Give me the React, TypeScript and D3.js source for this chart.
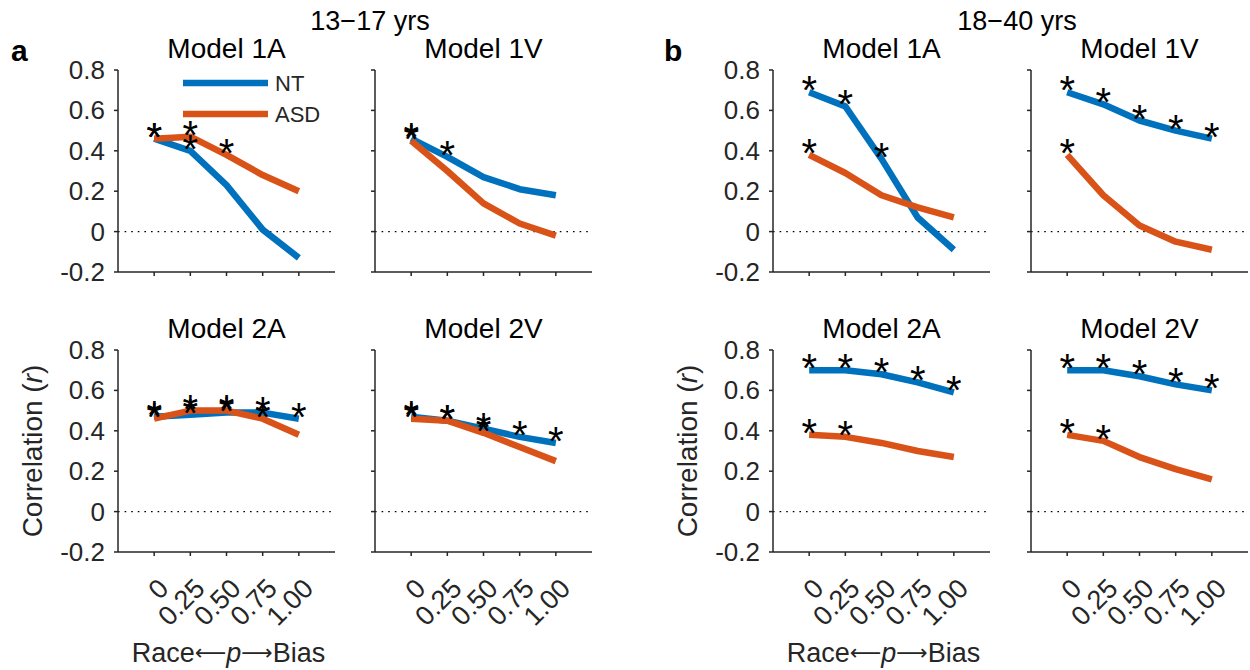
import React from 'react';
import * as d3 from 'd3';

// ---------- data ----------
const pValues = [0, 0.25, 0.5, 0.75, 1.0];
const pTickLabels = ['0', '0.25', '0.50', '0.75', '1.00'];
const yTicks = [-0.2, 0, 0.2, 0.4, 0.6, 0.8];
const yTickLabels = ['-0.2', '0', '0.2', '0.4', '0.6', '0.8'];
const groupTitles = ['13\u221217 yrs', '18\u221240 yrs'];
const panelLetters = ['a', 'b'];
const modelTitles = ['Model 1A', 'Model 1V', 'Model 2A', 'Model 2V'];
const seriesNames = ['NT', 'ASD'];
const yLabel = 'Correlation';
const xLabelLeft = 'Race';
const xLabelP = 'p';
const xLabelRight = 'Bias';
const arrowLeft = '\u27F5';
const arrowRight = '\u27F6';

// 13-17 yrs
const teen1A_NT = [0.46, 0.40, 0.23, 0.01, -0.13];
const teen1A_ASD = [0.46, 0.47, 0.38, 0.28, 0.20];
const teen1V_NT = [0.46, 0.37, 0.27, 0.21, 0.18];
const teen1V_ASD = [0.45, 0.30, 0.14, 0.04, -0.02];
const teen2A_NT = [0.47, 0.48, 0.49, 0.49, 0.46];
const teen2A_ASD = [0.46, 0.50, 0.50, 0.46, 0.38];
const teen2V_NT = [0.47, 0.45, 0.41, 0.37, 0.34];
const teen2V_ASD = [0.46, 0.45, 0.39, 0.32, 0.25];
// 18-40 yrs
const adult1A_NT = [0.69, 0.62, 0.36, 0.07, -0.09];
const adult1A_ASD = [0.38, 0.29, 0.18, 0.12, 0.07];
const adult1V_NT = [0.69, 0.63, 0.55, 0.50, 0.46];
const adult1V_ASD = [0.38, 0.18, 0.03, -0.05, -0.09];
const adult2A_NT = [0.70, 0.70, 0.68, 0.64, 0.59];
const adult2A_ASD = [0.38, 0.37, 0.34, 0.30, 0.27];
const adult2V_NT = [0.70, 0.70, 0.67, 0.63, 0.60];
const adult2V_ASD = [0.38, 0.35, 0.27, 0.21, 0.16];

// significance flags (1 = asterisk)
const teen1A_NT_sig = [1, 1, 0, 0, 0];
const teen1A_ASD_sig = [1, 1, 1, 0, 0];
const teen1V_NT_sig = [1, 1, 0, 0, 0];
const teen1V_ASD_sig = [1, 0, 0, 0, 0];
const teen2A_NT_sig = [1, 1, 1, 1, 1];
const teen2A_ASD_sig = [1, 1, 1, 1, 0];
const teen2V_NT_sig = [1, 1, 1, 1, 1];
const teen2V_ASD_sig = [1, 1, 1, 0, 0];
const adult1A_NT_sig = [1, 1, 1, 0, 0];
const adult1A_ASD_sig = [1, 0, 0, 0, 0];
const adult1V_NT_sig = [1, 1, 1, 1, 1];
const adult1V_ASD_sig = [1, 0, 0, 0, 0];
const adult2A_NT_sig = [1, 1, 1, 1, 1];
const adult2A_ASD_sig = [1, 1, 0, 0, 0];
const adult2V_NT_sig = [1, 1, 1, 1, 1];
const adult2V_ASD_sig = [1, 1, 0, 0, 0];

// ---------- layout ----------
const COLORS = ['#0072BD', '#D95319'];
const AXIS_COLOR = '#262626';
const FONT = "'Liberation Sans', Arial, Helvetica, sans-serif";
const axisXs = [118, 375, 773, 1031];
const axisTops = [70, 350];
const AW = 217;
const AH = 202;

const panels = [
  { col: 0, row: 0, title: modelTitles[0], nt: teen1A_NT, asd: teen1A_ASD, ntSig: teen1A_NT_sig, asdSig: teen1A_ASD_sig, legend: true },
  { col: 1, row: 0, title: modelTitles[1], nt: teen1V_NT, asd: teen1V_ASD, ntSig: teen1V_NT_sig, asdSig: teen1V_ASD_sig },
  { col: 0, row: 1, title: modelTitles[2], nt: teen2A_NT, asd: teen2A_ASD, ntSig: teen2A_NT_sig, asdSig: teen2A_ASD_sig },
  { col: 1, row: 1, title: modelTitles[3], nt: teen2V_NT, asd: teen2V_ASD, ntSig: teen2V_NT_sig, asdSig: teen2V_ASD_sig },
  { col: 2, row: 0, title: modelTitles[0], nt: adult1A_NT, asd: adult1A_ASD, ntSig: adult1A_NT_sig, asdSig: adult1A_ASD_sig },
  { col: 3, row: 0, title: modelTitles[1], nt: adult1V_NT, asd: adult1V_ASD, ntSig: adult1V_NT_sig, asdSig: adult1V_ASD_sig },
  { col: 2, row: 1, title: modelTitles[2], nt: adult2A_NT, asd: adult2A_ASD, ntSig: adult2A_NT_sig, asdSig: adult2A_ASD_sig },
  { col: 3, row: 1, title: modelTitles[3], nt: adult2V_NT, asd: adult2V_ASD, ntSig: adult2V_NT_sig, asdSig: adult2V_ASD_sig },
];

function Panel({ p }: { p: any }) {
  const x0 = axisXs[p.col];
  const y0 = axisTops[p.row];
  const x = d3.scaleLinear().domain([-0.25, 1.25]).range([x0, x0 + AW]);
  const y = d3.scaleLinear().domain([-0.2, 0.8]).range([y0 + AH, y0]);
  const line = d3
    .line<number>()
    .x((_, i) => x(pValues[i]))
    .y((d) => y(d));
  const series = [p.nt, p.asd];
  const sigs = [p.ntSig, p.asdSig];
  const showY = p.col === 0 || p.col === 2;
  const showX = p.row === 1;
  return (
    <g>
      <text x={(x0 + x0 + AW) / 2} y={y0 - 12} textAnchor="middle" fontSize={28} fill="#000" fontFamily={FONT}>
        {p.title}
      </text>
      {/* zero line */}
      <line x1={x0} x2={x0 + AW} y1={y(0)} y2={y(0)} stroke="#000" strokeWidth={1.3} strokeDasharray="1.6 5" />
      {/* axes */}
      <line x1={x0} x2={x0} y1={y0} y2={y0 + AH} stroke={AXIS_COLOR} strokeWidth={1.5} />
      <line x1={x0} x2={x0 + AW} y1={y0 + AH} y2={y0 + AH} stroke={AXIS_COLOR} strokeWidth={1.5} />
      {yTicks.map((t, i) => (
        <g key={'yt' + i}>
          <line x1={x0 - 4} x2={x0} y1={y(t)} y2={y(t)} stroke={AXIS_COLOR} strokeWidth={1.5} />
          {showY && (
            <text x={x0 - 13} y={y(t) + 9} textAnchor="end" fontSize={26} fill={AXIS_COLOR} fontFamily={FONT}>
              {yTickLabels[i]}
            </text>
          )}
        </g>
      ))}
      {pValues.map((v, i) => (
        <g key={'xt' + i}>
          <line x1={x(v)} x2={x(v)} y1={y0 + AH} y2={y0 + AH + 4} stroke={AXIS_COLOR} strokeWidth={1.5} />
          {showX && (
            <text
              transform={`translate(${x(v) + 16},${y0 + AH + 38}) rotate(-45)`}
              textAnchor="end"
              fontSize={27}
              fill={AXIS_COLOR}
              fontFamily={FONT}
            >
              {pTickLabels[i]}
            </text>
          )}
        </g>
      ))}
      {showY && showX && (
        <text
          transform={`translate(${x0 - 76},${y0 + AH / 2}) rotate(-90)`}
          textAnchor="middle"
          fontSize={28}
          fill={AXIS_COLOR}
          fontFamily={FONT}
        >
          {yLabel} (<tspan fontStyle="italic">r</tspan>)
        </text>
      )}
      {showY && showX && (
        <text x={x0 + AW / 2 + 2} y={662} textAnchor="middle" fontSize={27} fill={AXIS_COLOR} fontFamily={FONT}>
          {xLabelLeft}
          <tspan fontFamily="'DejaVu Sans'" fontSize={22} dy={-2}>{arrowLeft}</tspan>
          <tspan fontStyle="italic" dy={2}>{xLabelP}</tspan>
          <tspan fontFamily="'DejaVu Sans'" fontSize={22} dy={-2}>{arrowRight}</tspan>
          <tspan dy={2}>{xLabelRight}</tspan>
        </text>
      )}
      {/* data lines */}
      {series.map((s, k) => (
        <path key={'l' + k} d={line(s) || ''} fill="none" stroke={COLORS[k]} strokeWidth={6.5} strokeLinejoin="round" />
      ))}
      {/* asterisks */}
      {series.map((s, k) =>
        s.map((v: number, i: number) =>
          sigs[k][i] ? (
            <text key={'s' + k + '-' + i} x={x(pValues[i])} y={y(v) + 12} textAnchor="middle" fontSize={40} fill="#000" fontFamily={FONT}>
              *
            </text>
          ) : null
        )
      )}
      {p.legend &&
        seriesNames.map((n, k) => (
          <g key={'lg' + k}>
            <line x1={x0 + 65} x2={x0 + 150} y1={y0 + 13 + k * 31} y2={y0 + 13 + k * 31} stroke={COLORS[k]} strokeWidth={6.5} />
            <text x={x0 + 157} y={y0 + 21 + k * 31} fontSize={22} fill={AXIS_COLOR} fontFamily={FONT}>
              {n}
            </text>
          </g>
        ))}
    </g>
  );
}

export default function App() {
  return (
    <svg width={1250} height={670} style={{ position: 'absolute', left: 0, top: 0, background: '#fff' }}>
      <rect x={0} y={0} width={1250} height={670} fill="#fff" />
      <text x={370} y={30} textAnchor="middle" fontSize={27} fill="#000" fontFamily={FONT}>
        {groupTitles[0]}
      </text>
      <text x={1017} y={30} textAnchor="middle" fontSize={27} fill="#000" fontFamily={FONT}>
        {groupTitles[1]}
      </text>
      <text x={11} y={61} fontSize={30} fontWeight="bold" fill="#000" fontFamily={FONT}>
        {panelLetters[0]}
      </text>
      <text x={664} y={61} fontSize={30} fontWeight="bold" fill="#000" fontFamily={FONT}>
        {panelLetters[1]}
      </text>
      {panels.map((p, i) => (
        <Panel key={i} p={p} />
      ))}
    </svg>
  );
}
